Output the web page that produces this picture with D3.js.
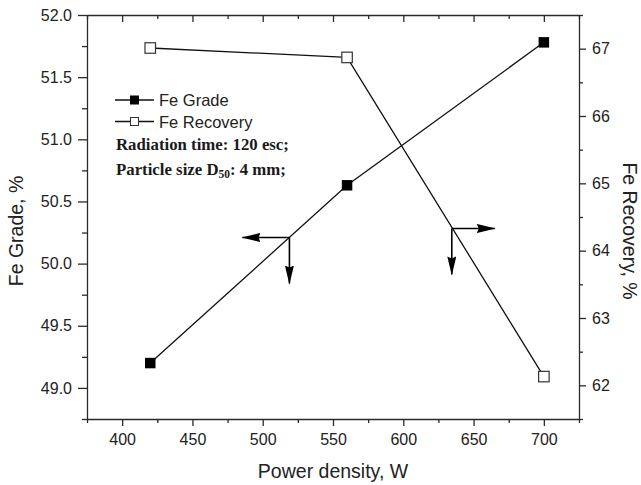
<!DOCTYPE html>
<html>
<head>
<meta charset="utf-8">
<script src="https://cdn.jsdelivr.net/npm/d3@7"></script>
<style>
  body { margin: 0; background: #fff; }
  svg { display: block; }
  .axis text { font-family: "Liberation Sans", Arial, sans-serif; font-size: 16px; fill: #222; }
  .axis path, .axis line { stroke: #2a2a2a; stroke-width: 1.3px; }
</style>
</head>
<body>
<svg id="chart" width="641" height="485"></svg>
<script>
// Microwave power density vs. Fe grade / Fe recovery
const power = [420, 560, 700];
const feGrade = [49.20, 50.63, 51.78];
const feRecovery = [67.01, 66.87, 62.13];

const powerTicks = [400, 450, 500, 550, 600, 650, 700];
const powerMinor = [375, 425, 475, 525, 575, 625, 675, 725];
const gradeTicks = [49.0, 49.5, 50.0, 50.5, 51.0, 51.5, 52.0];
const gradeMinor = [48.75, 49.25, 49.75, 50.25, 50.75, 51.25, 51.75];
const recoveryTicks = [62, 63, 64, 65, 66, 67];
const recoveryMinor = [61.5, 62.5, 63.5, 64.5, 65.5, 66.5, 67.5];

const seriesNames = ["Fe Grade", "Fe Recovery"];
const noteTime = "Radiation time: 120 esc;";
const noteSize = ["Particle size D", "50", ": 4 mm;"];
const axisTitles = { x: "Power density, W", left: "Fe Grade, %", right: "Fe Recovery, %" };
// direction arrows: which axis each curve belongs to, anchored in data units
const arrowAnchors = [
  { series: "grade", x: 519, y: 50.21, dirs: ["left", "down"] },
  { series: "recovery", x: 634.5, y: 64.33, dirs: ["right", "down"] }
];

const svg = d3.select("#chart");
const plotL = 87, plotR = 579, plotT = 15, plotB = 419;

const x = d3.scaleLinear().domain([375, 725]).range([plotL, plotR]);
const yG = d3.scaleLinear().domain([48.75, 52.0]).range([plotB, plotT]);
const yR = d3.scaleLinear().domain([61.5, 67.5]).range([plotB, plotT]);

// ---- axes ----
function minorAxis(axis, g) {
  g.call(axis).call(s => s.select(".domain").remove()).call(s => s.selectAll("text").remove());
}

const gx = svg.append("g").attr("class", "axis").attr("transform", `translate(0,${plotB})`);
gx.call(d3.axisBottom(x).tickValues(powerTicks).tickSize(7).tickSizeOuter(0).tickPadding(7.5).tickFormat(d3.format("d")));
minorAxis(d3.axisBottom(x).tickValues(powerMinor).tickSize(4), gx.append("g"));

const gt = svg.append("g").attr("class", "axis").attr("transform", `translate(0,${plotT})`);
gt.call(d3.axisTop(x).tickValues(powerTicks).tickSize(-7).tickSizeOuter(0).tickFormat(""));
minorAxis(d3.axisTop(x).tickValues(powerMinor).tickSize(-4), gt.append("g"));

const gl = svg.append("g").attr("class", "axis").attr("transform", `translate(${plotL},0)`);
gl.call(d3.axisLeft(yG).tickValues(gradeTicks).tickSize(9).tickSizeOuter(0).tickPadding(6).tickFormat(d3.format(".1f")));
minorAxis(d3.axisLeft(yG).tickValues(gradeMinor).tickSize(5), gl.append("g"));

const gr = svg.append("g").attr("class", "axis").attr("transform", `translate(${plotR},0)`);
gr.call(d3.axisRight(yR).tickValues(recoveryTicks).tickSize(7).tickSizeOuter(0).tickPadding(6).tickFormat(d3.format("d")));
minorAxis(d3.axisRight(yR).tickValues(recoveryMinor).tickSize(4), gr.append("g"));

// ---- axis titles ----
const titleFont = "'Liberation Sans', Arial, sans-serif";
svg.append("text").attr("x", (plotL + plotR) / 2).attr("y", 478)
  .attr("text-anchor", "middle").attr("font-family", titleFont).attr("font-size", 19.5).attr("fill", "#222")
  .text(axisTitles.x);
svg.append("text").attr("transform", "translate(23,231) rotate(-90)")
  .attr("text-anchor", "middle").attr("font-family", titleFont).attr("font-size", 19.5).attr("fill", "#222")
  .text(axisTitles.left);
svg.append("text").attr("transform", "translate(623,231) rotate(90)")
  .attr("text-anchor", "middle").attr("font-family", titleFont).attr("font-size", 19.5).attr("fill", "#222")
  .text(axisTitles.right);

// ---- series ----
const gradePts = power.map((p, i) => [x(p), yG(feGrade[i])]);
const recPts = power.map((p, i) => [x(p), yR(feRecovery[i])]);
const line = d3.line();

svg.append("path").attr("d", line(gradePts)).attr("fill", "none").attr("stroke", "#111").attr("stroke-width", 1.3);
svg.append("path").attr("d", line(recPts)).attr("fill", "none").attr("stroke", "#111").attr("stroke-width", 1.3);

const ms = 10.5;
svg.append("g").selectAll("rect").data(gradePts).join("rect")
  .attr("x", d => d[0] - ms / 2).attr("y", d => d[1] - ms / 2).attr("width", ms).attr("height", ms)
  .attr("fill", "#000");
svg.append("g").selectAll("rect").data(recPts).join("rect")
  .attr("x", d => d[0] - ms / 2).attr("y", d => d[1] - ms / 2).attr("width", ms).attr("height", ms)
  .attr("fill", "#fff").attr("stroke", "#333").attr("stroke-width", 1.2);

// ---- direction arrows ----
const defs = svg.append("defs");
defs.append("marker").attr("id", "head").attr("viewBox", "0 0 19 9")
  .attr("refX", 18).attr("refY", 4.5).attr("markerWidth", 19).attr("markerHeight", 9)
  .attr("markerUnits", "userSpaceOnUse").attr("orient", "auto")
  .append("path").attr("d", "M0,0 L19,4.5 L0,9 L2,4.5 Z").attr("fill", "#000");

const arrowLen = { left: [-47, 0], right: [43, 0], down: [0, 46] };
arrowAnchors.forEach(a => {
  const cx = x(a.x), cy = a.series === "grade" ? yG(a.y) : yR(a.y);
  a.dirs.forEach(dn => {
    const [dx, dy] = arrowLen[dn];
    svg.append("line").attr("x1", cx).attr("y1", cy).attr("x2", cx + dx).attr("y2", cy + dy)
      .attr("stroke", "#000").attr("stroke-width", 1.6).attr("marker-end", "url(#head)");
  });
});

// ---- legend ----
const lg = svg.append("g");
const legendRows = [
  { name: seriesNames[0], y: 100, fill: "#000", stroke: "#000" },
  { name: seriesNames[1], y: 121.5, fill: "#fff", stroke: "#333" }
];
legendRows.forEach(r => {
  lg.append("line").attr("x1", 115).attr("x2", 154).attr("y1", r.y).attr("y2", r.y)
    .attr("stroke", "#111").attr("stroke-width", 1.3);
  lg.append("rect").attr("x", 134.5 - 4).attr("y", r.y - 4).attr("width", 8).attr("height", 8)
    .attr("fill", r.fill).attr("stroke", r.stroke).attr("stroke-width", 1);
  lg.append("text").attr("x", 159).attr("y", r.y + 6)
    .attr("font-family", titleFont).attr("font-size", 16.5).attr("fill", "#222").text(r.name);
});

const noteFont = "'Liberation Serif', 'Times New Roman', serif";
lg.append("text").attr("x", 116).attr("y", 150)
  .attr("font-family", noteFont).attr("font-weight", "bold").attr("font-size", 16.8).attr("fill", "#1a1a1a")
  .text(noteTime);
const n2 = lg.append("text").attr("x", 116).attr("y", 175)
  .attr("font-family", noteFont).attr("font-weight", "bold").attr("font-size", 16.8).attr("fill", "#1a1a1a");
n2.append("tspan").text(noteSize[0]);
n2.append("tspan").attr("font-size", 11.5).attr("dy", 3).text(noteSize[1]);
n2.append("tspan").attr("dy", -3).text(noteSize[2]);
</script>
</body>
</html>
